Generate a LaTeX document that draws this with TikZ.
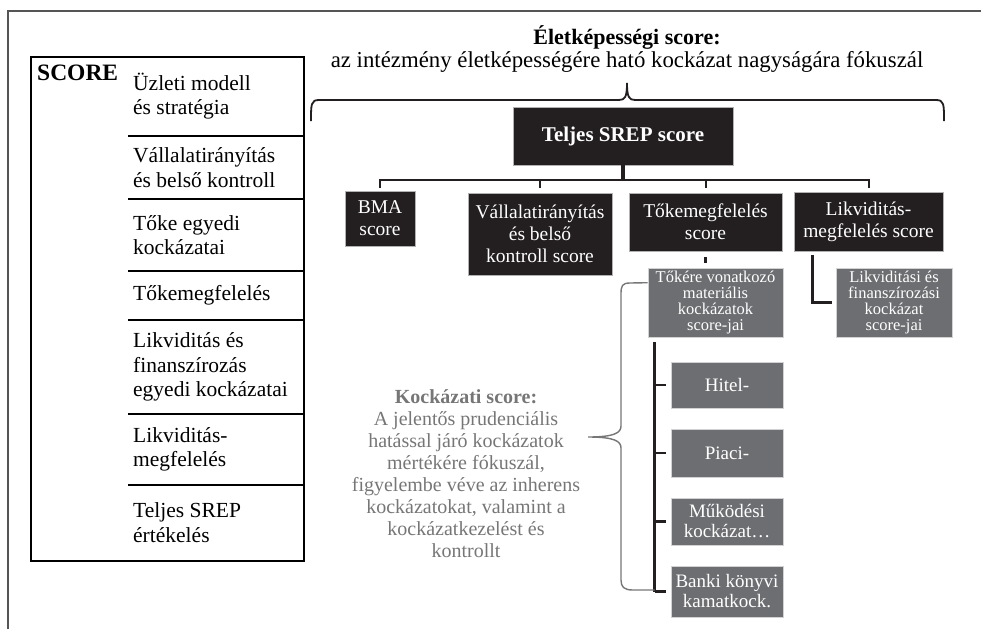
\documentclass[tikz,border=0pt]{standalone}
\usepackage{fontspec}
\setmainfont{Liberation Serif}
\definecolor{boxblack}{HTML}{231F20}
\definecolor{boxgrey}{HTML}{6D6E71}
\definecolor{txtgrey}{HTML}{767676}
\definecolor{framegrey}{HTML}{555555}
\begin{document}
\begin{tikzpicture}[x=1pt,y=-1pt,
  lefttxt/.style={anchor=west, align=left, inner sep=0pt, font=\fontsize{21.5}{24.5}\selectfont},
  blackbox/.style={fill=boxblack, draw=gray!60, line width=0.6pt, text=white, align=center, inner sep=0pt, font=\fontsize{19.5}{22}\selectfont},
  greybox/.style={fill=boxgrey, draw=gray!35, line width=0.6pt, text=white, align=center, inner sep=0pt, font=\fontsize{16.5}{16.3}\selectfont},
  riskbox/.style={greybox, minimum width=112pt, font=\fontsize{19}{20}\selectfont},
  sepline/.style={line width=2pt, black},
  busline/.style={line width=2pt, boxblack},
  stemline/.style={line width=4pt, boxblack},
  spineline/.style={line width=3.2pt, boxblack},
  tickline/.style={line width=2.6pt, boxblack},
  greybrace/.style={line width=1.4pt, txtgrey},
  bigbrace/.style={line width=1.8pt, boxblack}
]
\useasboundingbox (0,0) rectangle (981,629);

% frame
\draw[framegrey, line width=1.5pt] (8,629) -- (8,11) -- (981,11);

% left box
\node[draw, line width=2pt, anchor=north west, minimum width=273pt, minimum height=504pt, inner sep=0pt] (lbox) at (30,56) {};
\foreach \yy in {136,199,271,320,414,485} \draw[sepline] (128,\yy) -- (lbox.east|-0,\yy);
\node[anchor=base west, inner sep=0pt, font=\fontsize{23.5}{26}\selectfont\bfseries] (scorelbl) at (37,80) {SCORE};
\node[lefttxt] (l1) at (133,96) {Üzleti modell\\és stratégia};
\node[lefttxt] (l2) at (133,167.5) {Vállalatirányítás\\és belső kontroll};
\node[lefttxt] (l3) at (133,235) {Tőke egyedi\\kockázatai};
\node[lefttxt] (l4) at (133,295.5) {Tőkemegfelelés};
\node[lefttxt] (l5) at (133,367) {Likviditás és\\finanszírozás\\egyedi kockázatai};
\node[lefttxt] (l6) at (133,449.5) {Likviditás-\\megfelelés};
\node[lefttxt] (l7) at (133,522.5) {Teljes SREP\\értékelés};

% title
\node[anchor=base, inner sep=0pt, font=\fontsize{22}{24}\selectfont\bfseries] (title) at (627,44) {Életképességi score:};
\node[anchor=base, inner sep=0pt, font=\fontsize{22.8}{25}\selectfont] (subtitle) at (627,67) {az intézmény életképességére ható kockázat nagyságára fókuszál};

% big brace
\coordinate (bbl) at (311,121);
\coordinate (bbr) at (944,121);
\coordinate (bbtip) at (627,83);
\draw[bigbrace] (bbl) .. controls (311,104) and (311,100) .. (319,100) -- (619,100)
  .. controls (625,100) and (627,97) .. (bbtip)
  .. controls (627,97) and (629,100) .. (635,100) -- (936,100)
  .. controls (944,100) and (944,104) .. (bbr);

% top level
\node[blackbox, minimum width=220pt, minimum height=58pt, font=\fontsize{21}{24}\selectfont\bfseries] (srep) at (623,136) {Teljes SREP score};

\node[blackbox, minimum width=70pt, minimum height=55pt] (bma) at (380,218.5) {BMA\\score};
\node[blackbox, minimum width=144pt, minimum height=82pt] (vall) at (540,234) {Vállalatirányítás\\és belső\\ kontroll score};
\node[blackbox, minimum width=153pt, minimum height=58pt] (toke) at (705.5,222) {Tőkemegfelelés\\score};
\node[blackbox, minimum width=149pt, minimum height=59pt] (likv) at (868.5,221.5) {Likviditás-\\megfelelés score};

\coordinate (bus) at (0,180);
\draw[stemline] (srep.south) -- (srep.south|-bus);
\draw[busline, shorten <=3pt, shorten >=4pt] (bma.north) -- (bma.north|-bus) -- (likv.north|-bus) -- (likv.north);
\draw[busline, shorten <=5pt] (vall.north) -- (vall.north|-bus);
\draw[busline, shorten <=5pt] (toke.north) -- (toke.north|-bus);

% second level
\node[greybox, minimum width=135pt, minimum height=69pt] (tokere) at (715.5,302.5) {Tőkére vonatkozó\\materiális\\kockázatok\\score-jai};
\node[greybox, minimum width=116pt, minimum height=69pt] (liksub) at (894,302.5) {Likviditási és\\finanszírozási\\kockázat\\score-jai};

\draw[tickline, shorten <=6pt, shorten >=5pt] (toke.south) -- (toke.south|-tokere.north);
\draw[line width=3pt, boxblack] ([xshift=19pt,yshift=-4pt]likv.south west) |- ([xshift=-4pt]liksub.west);

% risk boxes
\node[riskbox, minimum height=46pt] (hitel) at (727,385) {Hitel-};
\node[riskbox, minimum height=48pt] (piaci) at (727,453) {Piaci-};
\node[riskbox, minimum height=47pt] (mukod) at (727,521.5) {Működési\\kockázat…};
\node[riskbox, minimum height=51pt] (banki) at (727,591.5) {Banki könyvi\\kamatkock.};

\coordinate (spine) at ([xshift=7pt,yshift=-5pt]tokere.south west);
\draw[spineline] (spine) -- (spine|-banki.west);
\foreach \b in {hitel,piaci,mukod,banki}
  \draw[tickline] ([xshift=-5pt]\b.west) -- (spine|-\b.west);

% grey brace
\coordinate (gbtop) at ([yshift=-15pt]tokere.north west);
\coordinate (gbtip) at (588,437);
\draw[greybrace] (gbtop) -- (630,283) .. controls (622,283) and (621,286) .. (621,294) -- (621,426)
  .. controls (621,433) and (614,437) .. (gbtip)
  .. controls (614,437) and (621,441) .. (621,448) -- (621,580)
  .. controls (621,587) and (624,590) .. (633,590) -- (spine|-0,590);

% risk text
\node[align=center, inner sep=0pt, text=txtgrey, font=\fontsize{20}{22}\selectfont] (kock) at (466,474)
 {\textbf{Kockázati score:}\\A jelentős prudenciális\\hatással járó kockázatok\\mértékére fókuszál,\\figyelembe véve az inherens\\kockázatokat, valamint a\\kockázatkezelést és\\kontrollt};
\end{tikzpicture}
\end{document}
